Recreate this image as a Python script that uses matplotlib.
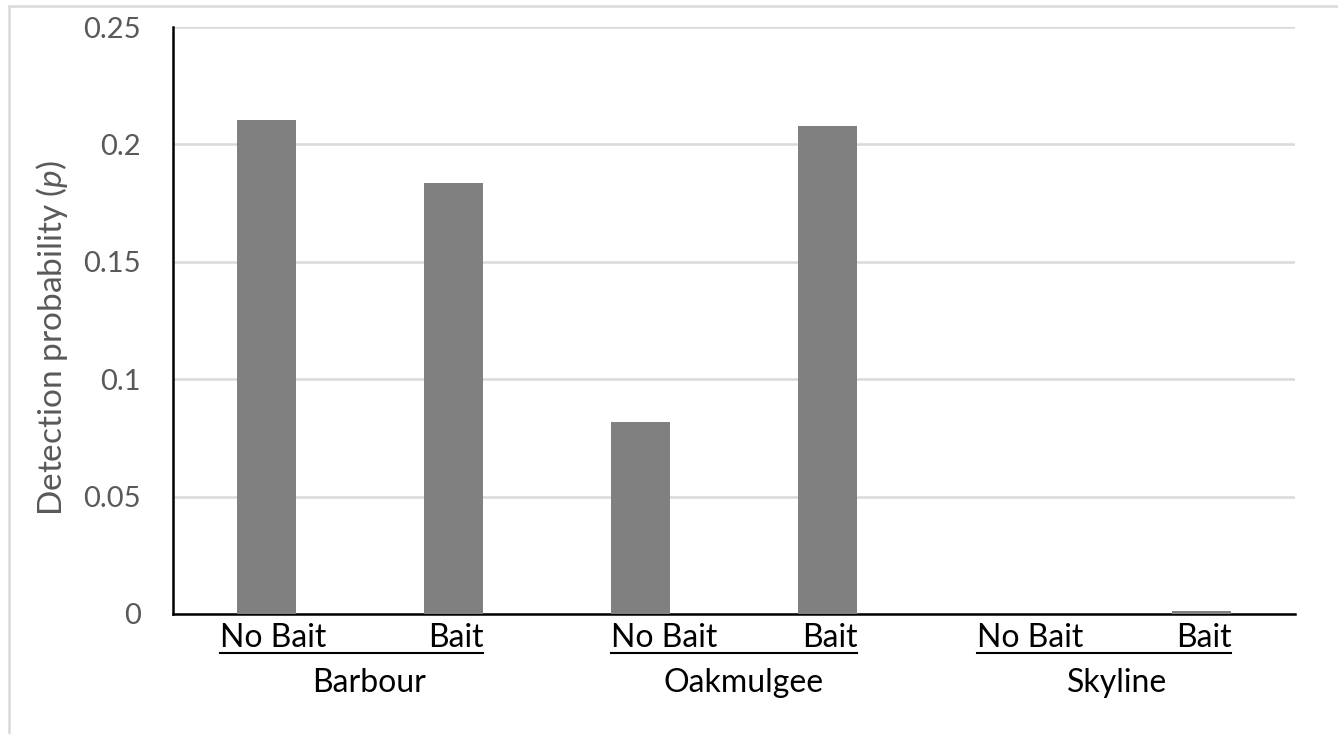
#Library Imports
import matplotlib
matplotlib.use('Agg')
from matplotlib import pyplot as plt
from matplotlib.patches import Rectangle
import numpy as np

#Chart data
sites = ['Barbour', 'Oakmulgee', 'Skyline']
treatments = ['No Bait', 'Bait']
noBait = [0.2103, 0.0818, 0.0]
bait = [0.1835, 0.2078, 0.0012]
yTicks = [0, 0.05, 0.1, 0.15, 0.2, 0.25]
yTickLabels = ['0', '0.05', '0.1', '0.15', '0.2', '0.25']

#Fonts
plt.rcParams['font.family'] = ['Lato', 'DejaVu Sans']
plt.rcParams['mathtext.fontset'] = 'custom'
plt.rcParams['mathtext.it'] = 'Lato:italic'
plt.rcParams['mathtext.rm'] = 'Lato'

tickGrey = '#595959'
barGrey = '#808080'
gridGrey = '#d9d9d9'

fig = plt.figure(figsize=(13.38, 7.34), dpi=100)
ax = fig.add_axes([0.1293, 0.1635, 0.8386, 0.7997])

#Interleave values: No Bait, Bait per site
values = []
for nb, b in zip(noBait, bait):
    values.append(nb)
    values.append(b)
xPos = np.arange(len(values))
barWidth = 0.32
ax.bar(xPos, values, width=barWidth, color=barGrey, zorder=3)

ax.set_xlim(-0.5, len(values) - 0.5)
ax.set_ylim(0, 0.25)
ax.set_yticks(yTicks)
ax.set_yticklabels(yTickLabels, fontsize=21, color=tickGrey)
ax.tick_params(axis='y', length=0, pad=23)
ax.set_xticks([])
ax.yaxis.grid(True, color=gridGrey, linewidth=1.8, zorder=0)

for side in ['top', 'right']:
    ax.spines[side].set_visible(False)
ax.spines['left'].set_linewidth(1.8)
ax.spines['bottom'].set_linewidth(1.8)
ax.spines['left'].set_color('black')
ax.spines['bottom'].set_color('black')

#Category labels under the axis (x in data units, y in axes units)
trans = ax.get_xaxis_transform()
noBaitLeft = [-0.25, 1.84, 3.80]
for i, site in enumerate(sites):
    left = noBaitLeft[i]
    right = 2 * i + 1 + barWidth / 2
    ax.text(left, -0.041, treatments[0], transform=trans, ha='left', va='center',
            fontsize=23, color='black')
    ax.text(right, -0.041, treatments[1], transform=trans, ha='right', va='center',
            fontsize=23, color='black')
    ax.plot([left, right], [-0.067, -0.067], transform=trans, color='black',
            linewidth=1.5, clip_on=False)
    ax.text(2 * i + 0.55, -0.1175, site, transform=trans, ha='center', va='center',
            fontsize=23, color='black')

fig.text(52 / 1338, 1 - 338 / 734, r'Detection probability ($\mathit{p}$)',
         rotation=90, ha='center', va='center', fontsize=24, color=tickGrey)

#Chart area border (only top and left edges visible)
fig.patches.append(Rectangle((8.5 / 1338, -0.1), 1.2, 1 - 5.5 / 734 + 0.1,
                             transform=fig.transFigure, fill=False,
                             edgecolor=gridGrey, linewidth=1.8))

fig.savefig('out.png', dpi=100)
